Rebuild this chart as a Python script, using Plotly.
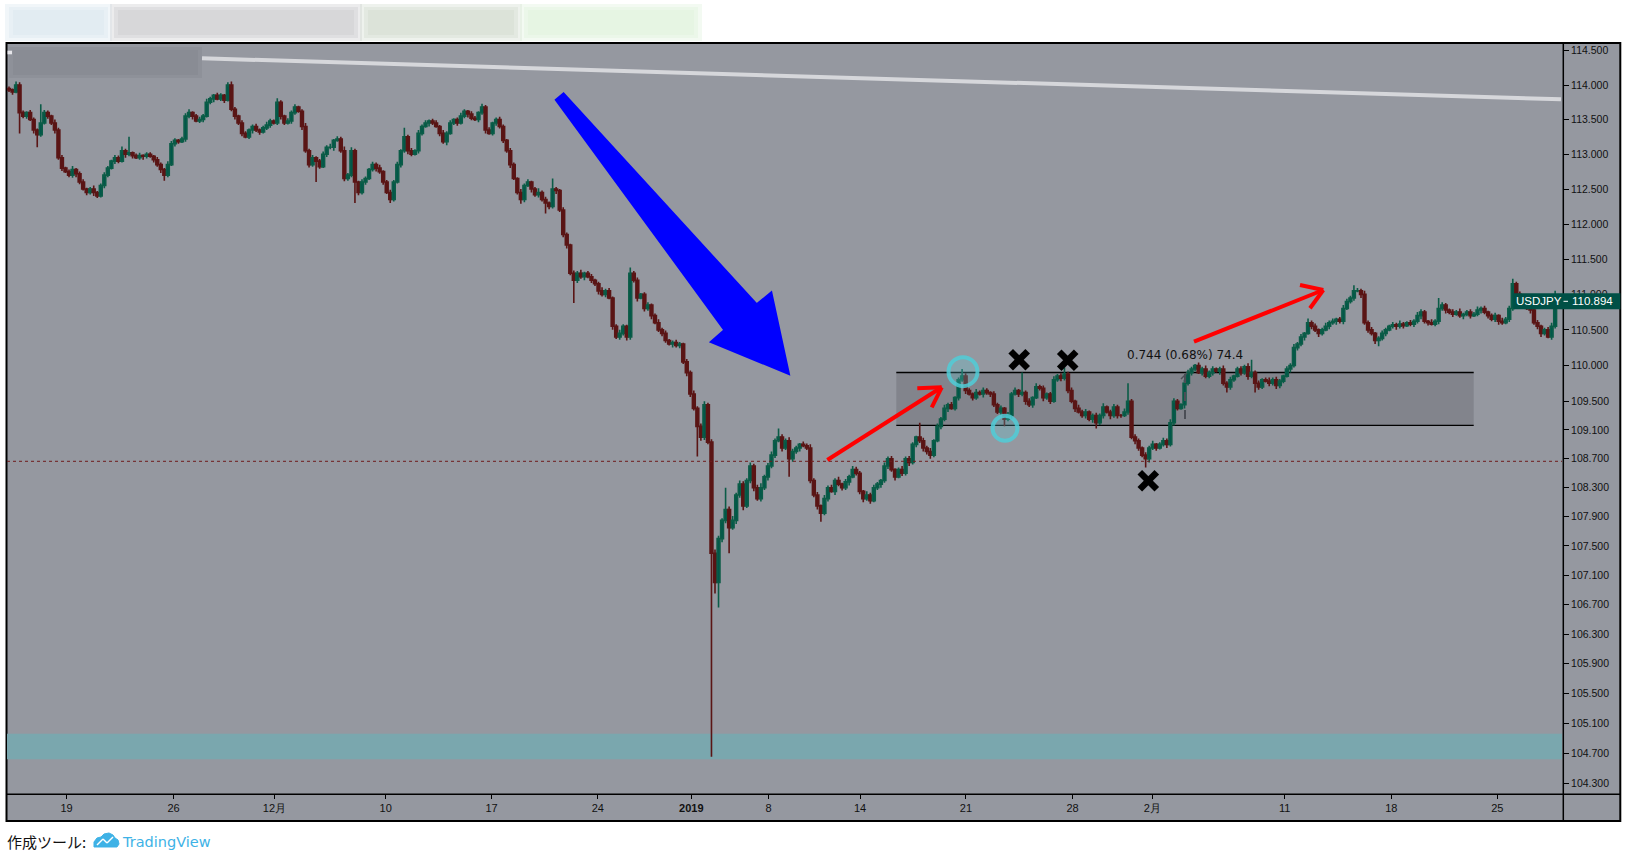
import math
import plotly.graph_objects as go

# ---------------- data ----------------
first_open = 113.95
closes = [
    113.93, 113.90, 114.00, 113.60, 113.55, 113.60, 113.50, 113.35, 113.28, 113.45,
    113.60, 113.55, 113.45, 113.35, 112.95, 112.80, 112.75, 112.70, 112.78, 112.72,
    112.60, 112.50, 112.45, 112.50, 112.45, 112.40, 112.55, 112.70, 112.80, 112.90,
    112.95, 112.90, 113.05, 113.00, 113.02, 112.98, 112.95, 112.98, 112.97, 113.00,
    112.97, 112.92, 112.85, 112.78, 112.70, 112.85, 113.15, 113.20, 113.18, 113.22,
    113.55, 113.60, 113.55, 113.48, 113.50, 113.55, 113.75, 113.80, 113.85, 113.80,
    113.85, 113.78, 114.00, 113.65, 113.55, 113.45, 113.30, 113.25, 113.35, 113.40,
    113.35, 113.32, 113.38, 113.42, 113.48, 113.45, 113.75, 113.55, 113.45, 113.48,
    113.60, 113.68, 113.62, 113.40, 113.05, 112.85, 112.95, 112.90, 112.82, 113.00,
    113.10, 113.10, 113.20, 113.22, 113.05, 112.65, 112.70, 113.05, 112.60, 112.45,
    112.60, 112.65, 112.78, 112.85, 112.80, 112.75, 112.60, 112.45, 112.35, 112.60,
    112.85, 113.05, 113.25, 113.05, 113.00, 113.05, 113.30, 113.40, 113.45, 113.48,
    113.45, 113.40, 113.30, 113.18, 113.30, 113.45, 113.50, 113.45, 113.55, 113.62,
    113.58, 113.52, 113.50, 113.60, 113.68, 113.35, 113.30, 113.45, 113.50, 113.40,
    113.20, 113.05, 112.85, 112.65, 112.45, 112.35, 112.55, 112.60, 112.50, 112.42,
    112.45, 112.35, 112.30, 112.25, 112.50, 112.48, 112.20, 111.85, 111.70, 111.30,
    111.20, 111.30, 111.25, 111.30, 111.25, 111.20, 111.15, 111.05, 111.00, 111.05,
    110.95, 110.55, 110.40, 110.45, 110.55, 110.40, 111.30, 111.20, 110.95, 111.00,
    110.80, 110.85, 110.70, 110.60, 110.50, 110.45, 110.35, 110.30, 110.32, 110.28,
    110.30, 110.05, 109.90, 109.60, 109.40, 109.15, 109.00, 109.45, 108.93, 107.40,
    107.00, 107.60, 107.85, 108.00, 107.75, 107.85, 108.20, 108.35, 108.05, 108.40,
    108.60, 108.30, 108.15, 108.30, 108.45, 108.60, 108.75, 108.95, 109.00, 108.85,
    108.95, 108.70, 108.80, 108.85, 108.90, 108.88, 108.85, 108.40, 108.20, 108.05,
    107.95, 108.15, 108.30, 108.25, 108.40, 108.35, 108.30, 108.38, 108.45, 108.55,
    108.50, 108.25, 108.15, 108.20, 108.12, 108.30, 108.35, 108.40, 108.60, 108.70,
    108.55, 108.45, 108.55, 108.50, 108.70, 108.65, 108.90, 109.00, 108.95, 108.85,
    108.80, 108.75, 108.95, 109.15, 109.25, 109.40, 109.45, 109.40, 109.55, 109.80,
    109.85, 109.65, 109.60, 109.55, 109.62, 109.60, 109.65, 109.62, 109.60, 109.45,
    109.35, 109.40, 109.25, 109.30, 109.60, 109.65, 109.60, 109.62, 109.50, 109.45,
    109.55, 109.70, 109.68, 109.55, 109.60, 109.50, 109.80, 109.85, 109.82, 109.88,
    109.65, 109.50, 109.40, 109.35, 109.30, 109.35, 109.25, 109.30, 109.20, 109.30,
    109.42, 109.35, 109.30, 109.42, 109.30, 109.30, 109.35, 109.50, 109.00, 108.95,
    108.85, 108.75, 108.70, 108.85, 108.90, 108.85, 108.90, 108.95, 108.90, 109.20,
    109.50, 109.40, 109.45, 109.75, 109.90, 109.95, 110.00, 109.90, 109.95, 109.85,
    109.90, 109.95, 109.92, 109.95, 109.75, 109.70, 109.80, 109.85, 109.95, 109.90,
    109.98, 109.85, 109.90, 109.75, 109.70, 109.80, 109.78, 109.75, 109.80, 109.72,
    109.78, 109.85, 109.95, 110.00, 110.25, 110.30, 110.40, 110.45, 110.60, 110.55,
    110.50, 110.45, 110.50, 110.55, 110.60, 110.62, 110.65, 110.62, 110.80, 110.90,
    110.95, 111.05, 111.05, 111.00, 110.60, 110.50, 110.45, 110.35, 110.38, 110.45,
    110.50, 110.55, 110.57, 110.55, 110.58, 110.56, 110.60, 110.58, 110.62, 110.70,
    110.75, 110.62, 110.60, 110.58, 110.62, 110.80, 110.85, 110.78, 110.75, 110.72,
    110.75, 110.70, 110.72, 110.75, 110.70, 110.72, 110.78, 110.80, 110.75, 110.70,
    110.65, 110.70, 110.62, 110.60, 110.65, 110.80, 111.15, 111.00, 110.90, 110.85,
    110.80, 110.78, 110.60, 110.55, 110.45, 110.50, 110.40, 110.55, 110.85, 110.894,
]
# upper / lower shadow lengths in pips (0.01)
wick_up = [
    3, 2, 5, 4, 3, 2, 4, 3, 2, 27, 4, 3, 2, 5, 3, 4, 2, 3, 5, 2,
    3, 4, 2, 3, 5, 2, 3, 4, 3, 2, 4, 3, 6, 3, 23, 2, 3, 4, 2, 3,
    3, 2, 4, 3, 2, 5, 4, 3, 2, 3, 4, 5, 2, 3, 4, 3, 5, 3, 2, 4,
    3, 2, 4, 5, 3, 2, 4, 3, 2, 3, 4, 2, 3, 5, 3, 2, 6, 3, 2, 4,
    3, 4, 2, 3, 5, 3, 4, 2, 3, 4, 3, 5, 2, 4, 3, 6, 3, 5, 3, 2,
    4, 3, 2, 4, 3, 5, 2, 3, 4, 3, 4, 2, 13, 3, 4, 2, 5, 3, 4, 2,
    3, 4, 2, 5, 3, 4, 2, 3, 5, 3, 2, 4, 3, 2, 5, 3, 4, 2, 3, 4,
    3, 2, 4, 3, 2, 5, 3, 4, 2, 3, 6, 3, 4, 2, 15, 3, 2, 4, 3, 2,
    4, 3, 5, 2, 3, 4, 2, 3, 5, 3, 4, 2, 3, 5, 3, 2, 8, 3, 4, 2,
    3, 4, 2, 3, 5, 3, 4, 2, 3, 4, 3, 2, 4, 3, 5, 3, 4, 5, 3, 4,
    5, 4, 3, 30, 4, 6, 3, 5, 4, 3, 5, 3, 4, 6, 3, 4, 5, 3, 12, 4,
    3, 5, 4, 3, 2, 4, 3, 5, 3, 4, 2, 5, 3, 4, 3, 5, 2, 4, 3, 5,
    4, 3, 2, 5, 3, 4, 3, 2, 5, 3, 4, 2, 3, 5, 3, 4, 3, 2, 20, 4,
    3, 5, 2, 4, 3, 5, 3, 4, 2, 3, 10, 4, 3, 2, 5, 3, 4, 3, 2, 4,
    3, 4, 2, 5, 3, 4, 2, 28, 3, 4, 2, 5, 3, 4, 2, 3, 5, 3, 4, 9,
    3, 4, 2, 5, 3, 4, 2, 3, 4, 3, 5, 2, 3, 4, 3, 2, 5, 25, 3, 4,
    3, 2, 4, 3, 5, 2, 3, 4, 3, 5, 4, 3, 2, 5, 4, 3, 2, 4, 3, 5,
    3, 4, 2, 3, 5, 3, 4, 2, 3, 4, 3, 5, 18, 3, 4, 2, 3, 5, 3, 4,
    3, 2, 4, 3, 5, 3, 4, 2, 6, 3, 4, 2, 3, 5, 3, 4, 2, 3, 5, 4,
    3, 8, 4, 3, 5, 3, 4, 2, 3, 4, 3, 2, 4, 3, 5, 3, 2, 4, 3, 5,
    4, 3, 2, 5, 3, 15, 4, 3, 2, 4, 3, 5, 2, 3, 4, 3, 5, 3, 4, 2,
    3, 4, 2, 5, 3, 4, 7, 3, 4, 2, 3, 5, 3, 4, 2, 3, 4, 5, 20, 3,
]
wick_dn = [
    3, 4, 2, 30, 3, 4, 2, 5, 18, 3, 2, 4, 3, 5, 3, 4, 2, 3, 4, 5,
    3, 2, 4, 3, 5, 3, 2, 4, 3, 2, 4, 3, 2, 5, 3, 4, 2, 3, 5, 3,
    2, 4, 3, 5, 8, 3, 2, 4, 3, 2, 4, 3, 5, 2, 3, 4, 2, 3, 5, 2,
    3, 4, 2, 3, 5, 3, 4, 2, 3, 5, 3, 4, 2, 3, 4, 2, 3, 5, 3, 2,
    4, 3, 2, 5, 3, 4, 3, 30, 3, 2, 4, 3, 5, 2, 3, 4, 3, 3, 30, 4,
    3, 4, 2, 3, 5, 3, 4, 2, 5, 3, 2, 4, 3, 5, 3, 2, 4, 3, 2, 5,
    3, 2, 4, 3, 5, 2, 3, 4, 2, 3, 5, 3, 2, 4, 3, 5, 2, 3, 4, 3,
    4, 3, 5, 2, 3, 6, 4, 2, 5, 3, 4, 3, 15, 4, 3, 5, 3, 4, 5, 3,
    32, 4, 3, 5, 2, 4, 3, 5, 3, 4, 2, 5, 3, 4, 3, 5, 4, 3, 5, 2,
    4, 3, 5, 2, 3, 4, 3, 2, 5, 3, 4, 3, 5, 4, 3, 42, 5, 4, 3, 275,
    15, 34, 5, 4, 35, 3, 5, 4, 6, 3, 4, 5, 3, 4, 3, 5, 3, 4, 2, 5,
    3, 25, 4, 3, 5, 2, 3, 4, 3, 5, 12, 3, 4, 2, 5, 3, 4, 3, 5, 2,
    3, 4, 5, 3, 4, 2, 3, 5, 3, 4, 3, 5, 2, 4, 3, 5, 3, 4, 3, 5,
    4, 5, 3, 2, 4, 3, 5, 2, 3, 4, 3, 5, 2, 4, 3, 2, 5, 3, 4, 3,
    3, 4, 10, 3, 5, 2, 4, 3, 5, 3, 4, 2, 3, 5, 3, 4, 2, 3, 4, 3,
    4, 3, 5, 2, 3, 4, 3, 5, 8, 3, 4, 2, 5, 3, 4, 3, 2, 4, 3, 5,
    4, 3, 12, 5, 3, 4, 2, 3, 5, 3, 4, 3, 2, 5, 3, 4, 3, 2, 4, 3,
    3, 4, 2, 5, 3, 8, 4, 3, 2, 4, 3, 5, 3, 13, 4, 3, 2, 4, 3, 5,
    4, 3, 2, 5, 3, 4, 3, 5, 2, 4, 3, 5, 3, 2, 4, 3, 5, 3, 4, 2,
    3, 4, 2, 5, 3, 4, 3, 5, 8, 3, 4, 2, 3, 5, 3, 4, 2, 3, 4, 3,
    5, 3, 4, 2, 3, 4, 3, 5, 3, 4, 2, 3, 5, 3, 4, 2, 3, 5, 3, 4,
    3, 4, 5, 3, 2, 4, 3, 5, 3, 4, 2, 5, 3, 4, 5, 3, 2, 4, 3, 2,
]
time_tick_pos = [16.3, 46.6, 75.2, 106.7, 136.7, 166.8, 193.3, 215.2, 241.1,
                 271.1, 301.3, 323.9, 361.4, 391.6, 421.6]
time_tick_lbl = ["19", "26", "12月", "10", "17", "24", "<b>2019</b>", "8", "14",
                 "21", "28", "2月", "11", "18", "25"]
price_ticks = [114.5, 114.0, 113.5, 113.0, 112.5, 112.0, 111.5, 111.0, 110.5, 110.0,
               109.5, 109.1, 108.7, 108.3, 107.9, 107.5, 107.1, 106.7, 106.3, 105.9,
               105.5, 105.1, 104.7, 104.3]
last_price = 110.894
symbol = "USDJPY"
measure_text = "0.744 (0.68%) 74.4"

# ---------------- geometry ----------------
W, H = 1627, 858
PL, PR, PT, PB = 7, 1563, 43, 794


def px(x):
    return (x - PL) / (PR - PL)


def py(y):
    return (PB - y) / (PB - PT)


n = len(closes)
xs = list(range(n))
opens = [first_open] + closes[:-1]
highs = [max(o, c) + u / 100 for o, c, u in zip(opens, closes, wick_up)]
lows = [min(o, c) - d / 100 for o, c, d in zip(opens, closes, wick_dn)]

# log price scale: 114.5 at y=50.7, 7850 px per ln unit
K = 7850.0
p_top = 114.5 * math.exp((50.7 - PT) / K)
p_bot = 114.5 * math.exp(-(PB - 50.7) / K)
bar_px = 3.53
x_lo = (PL - 9) / bar_px
x_hi = (PR - 9) / bar_px

BG = "#9598a0"
fig = go.Figure()
fig.add_trace(go.Candlestick(
    x=xs, open=opens, high=highs, low=lows, close=closes,
    increasing=dict(line=dict(color="#0b5c47", width=1.6), fillcolor="#00574b"),
    decreasing=dict(line=dict(color="#5a1515", width=1.6), fillcolor="#5a1515"),
    hoverinfo="skip", showlegend=False,
))

shapes = []


def rect(x0, y0, x1, y1, fill, line=None, lw=0, layer="below"):
    shapes.append(dict(type="rect", xref="paper", yref="paper",
                       x0=px(x0), x1=px(x1), y0=py(y0), y1=py(y1),
                       fillcolor=fill, line=dict(color=line or fill, width=lw),
                       layer=layer))


def seg(x0, y0, x1, y1, color, w, dash="solid", layer="above"):
    shapes.append(dict(type="line", xref="paper", yref="paper",
                       x0=px(x0), x1=px(x1), y0=py(y0), y1=py(y1),
                       line=dict(color=color, width=w, dash=dash), layer=layer))


def path(pts, fill, line, lw, layer="above"):
    d = "M " + " L ".join(f"{px(a):.5f},{py(b):.5f}" for a, b in pts) + " Z"
    shapes.append(dict(type="path", xref="paper", yref="paper", path=d,
                       fillcolor=fill, line=dict(color=line, width=lw), layer=layer))


# chart container (plot + axes) with frame
rect(6.5, 43, 1620.3, 821, BG, "#000000", 2)
# header (blurred) strip: soft layered blocks
for (x0, x1, col) in [(5, 112, "rgba(215,228,238,0.35)"), (110, 362, "rgba(200,200,202,0.35)"),
                      (360, 522, "rgba(205,218,203,0.35)"), (520, 702, "rgba(222,240,218,0.35)")]:
    for k in range(3):
        rect(x0 + 4 * k, 4 + 3 * k, x1 - 4 * k, 41 - 3 * k, col)
# blurred legend area
rect(9, 47, 202, 78, "rgba(128,131,139,0.35)")
rect(13, 50, 198, 75, "rgba(128,131,139,0.35)")
rect(7.5, 50.7, 12, 54.3, "#e6e6ea")
# cyan support band
rect(PL, 733.7, 1562, 759.3, "#7aa7ae")
# range box
rect(896.3, 372.5, 1473.7, 425.3, "rgba(30,32,40,0.16)")
seg(896.3, 372.5, 1473.7, 372.5, "#000000", 1.3, layer="below")
seg(896.3, 425.3, 1473.7, 425.3, "#000000", 1.3, layer="below")
# axis separator lines
seg(6.5, 794.3, 1620.3, 794.3, "#000000", 1.5)
seg(1563.3, 43, 1563.3, 821, "#000000", 1.5)
# dotted horizontal line
seg(PL, 461.3, 1562, 461.3, "#6e1c1c", 1, dash="dot")
# long trend line
seg(202, 58.3, 1561, 99.3, "#d6d7db", 4)
# measurement dashed line
seg(1185, 374, 1185, 425, "#4b4e56", 2, dash="dash")
seg(1181, 379, 1187, 373, "#4b4e56", 1.5)
# blue arrow
path([(556.5, 99.9), (563.5, 94.1), (756.7, 305), (771, 293.3), (788.3, 373.3),
      (711.7, 341.7), (725, 330)], "#0000ff", "#0000ff", 3)
# red arrows
for (x0, y0, x1, y1, wa, wb) in [
    (827.3, 460, 941.7, 387.3, (917.3, 388.3), (931.7, 407.3)),
    (1194, 341.7, 1323.3, 290, (1300, 285), (1310, 308.3)),
]:
    seg(x0, y0, x1, y1, "#ff0000", 4)
    seg(x1, y1, wa[0], wa[1], "#ff0000", 4)
    seg(x1, y1, wb[0], wb[1], "#ff0000", 4)
# cyan circles
for (cx, cy, r) in [(963, 371.7, 14.5), (1005, 428.3, 12.5)]:
    shapes.append(dict(type="circle", xref="paper", yref="paper",
                       x0=px(cx - r), x1=px(cx + r), y0=py(cy + r), y1=py(cy - r),
                       fillcolor="rgba(90,205,215,0.25)",
                       line=dict(color="rgba(80,205,215,0.85)", width=4), layer="above"))
# black X marks
for (cx, cy) in [(1019.2, 359.7), (1067.7, 360.3), (1148.3, 480.7)]:
    s = 8.5
    seg(cx - s, cy - s, cx + s, cy + s, "#000000", 6.5)
    seg(cx - s, cy + s, cx + s, cy - s, "#000000", 6.5)
# last price label box
rect(1513.3, 293.3, 1620.3, 309.3, "#005046", layer="above")
seg(1563.5, 301.3, 1568, 301.3, "#ffffff", 1)
# TradingView logo (small cloud)
path([(94, 847), (94, 842), (97, 838), (101, 837), (104, 834), (109, 833),
      (113, 835), (115, 838), (118, 840), (119, 844), (117, 847)],
     "#3eb2e6", "#3eb2e6", 1, layer="above")
seg(97, 845, 103, 839, "#ffffff", 1.5)
seg(103, 839, 107, 843, "#ffffff", 1.5)
seg(107, 843, 113, 837, "#ffffff", 1.5)

annotations = [
    dict(xref="paper", yref="paper", x=px(1538.5), y=py(301.3), text=symbol,
         showarrow=False, font=dict(family="Liberation Sans", size=11.5, color="#ffffff"),
         xanchor="center", yanchor="middle"),
    dict(xref="paper", yref="paper", x=px(1592), y=py(301.3), text=f"{last_price:.3f}",
         showarrow=False, font=dict(family="Liberation Sans", size=11.5, color="#ffffff"),
         xanchor="center", yanchor="middle"),
    dict(xref="paper", yref="paper", x=px(1125), y=py(355.5), text=measure_text,
         showarrow=False, font=dict(family="DejaVu Sans", size=12, color="#111111"),
         xanchor="left", yanchor="middle"),
    dict(xref="paper", yref="paper", x=px(5), y=py(841.5), text="作成ツール:",
         showarrow=False, font=dict(family="Noto Sans CJK JP", size=15, color="#111111"),
         xanchor="left", yanchor="middle"),
    dict(xref="paper", yref="paper", x=px(120), y=py(841.5), text="TradingView",
         showarrow=False, font=dict(family="DejaVu Sans", size=14.5, color="#3eb2e6"),
         xanchor="left", yanchor="middle"),
]

fig.update_layout(
    width=W, height=H,
    margin=dict(l=PL, r=W - PR, t=PT, b=H - PB),
    paper_bgcolor="#ffffff", plot_bgcolor=BG,
    showlegend=False, hovermode=False, boxgap=0.2, boxgroupgap=0.0,
    shapes=shapes, annotations=annotations,
    font=dict(family="Liberation Sans", size=11, color="#111111"),
    xaxis=dict(range=[x_lo, x_hi], showgrid=False, zeroline=False,
               rangeslider=dict(visible=False), tickmode="array",
               tickvals=time_tick_pos, ticktext=time_tick_lbl,
               ticks="outside", ticklen=4, tickcolor="#000000", showline=False,
               tickfont=dict(family="Liberation Sans", size=11, color="#111111")),
    yaxis=dict(type="log", side="right",
               range=[math.log10(p_bot), math.log10(p_top)],
               showgrid=False, zeroline=False, tickmode="array",
               tickvals=price_ticks, ticktext=[f"{v:.3f}" for v in price_ticks],
               ticks="outside", ticklen=5, tickcolor="#000000", showline=False,
               tickfont=dict(family="Liberation Sans", size=10.5, color="#111111")),
)

fig.write_html("out.html", config={"displayModeBar": False},
               post_script="document.body.style.margin='0';document.body.style.overflow='hidden';")
